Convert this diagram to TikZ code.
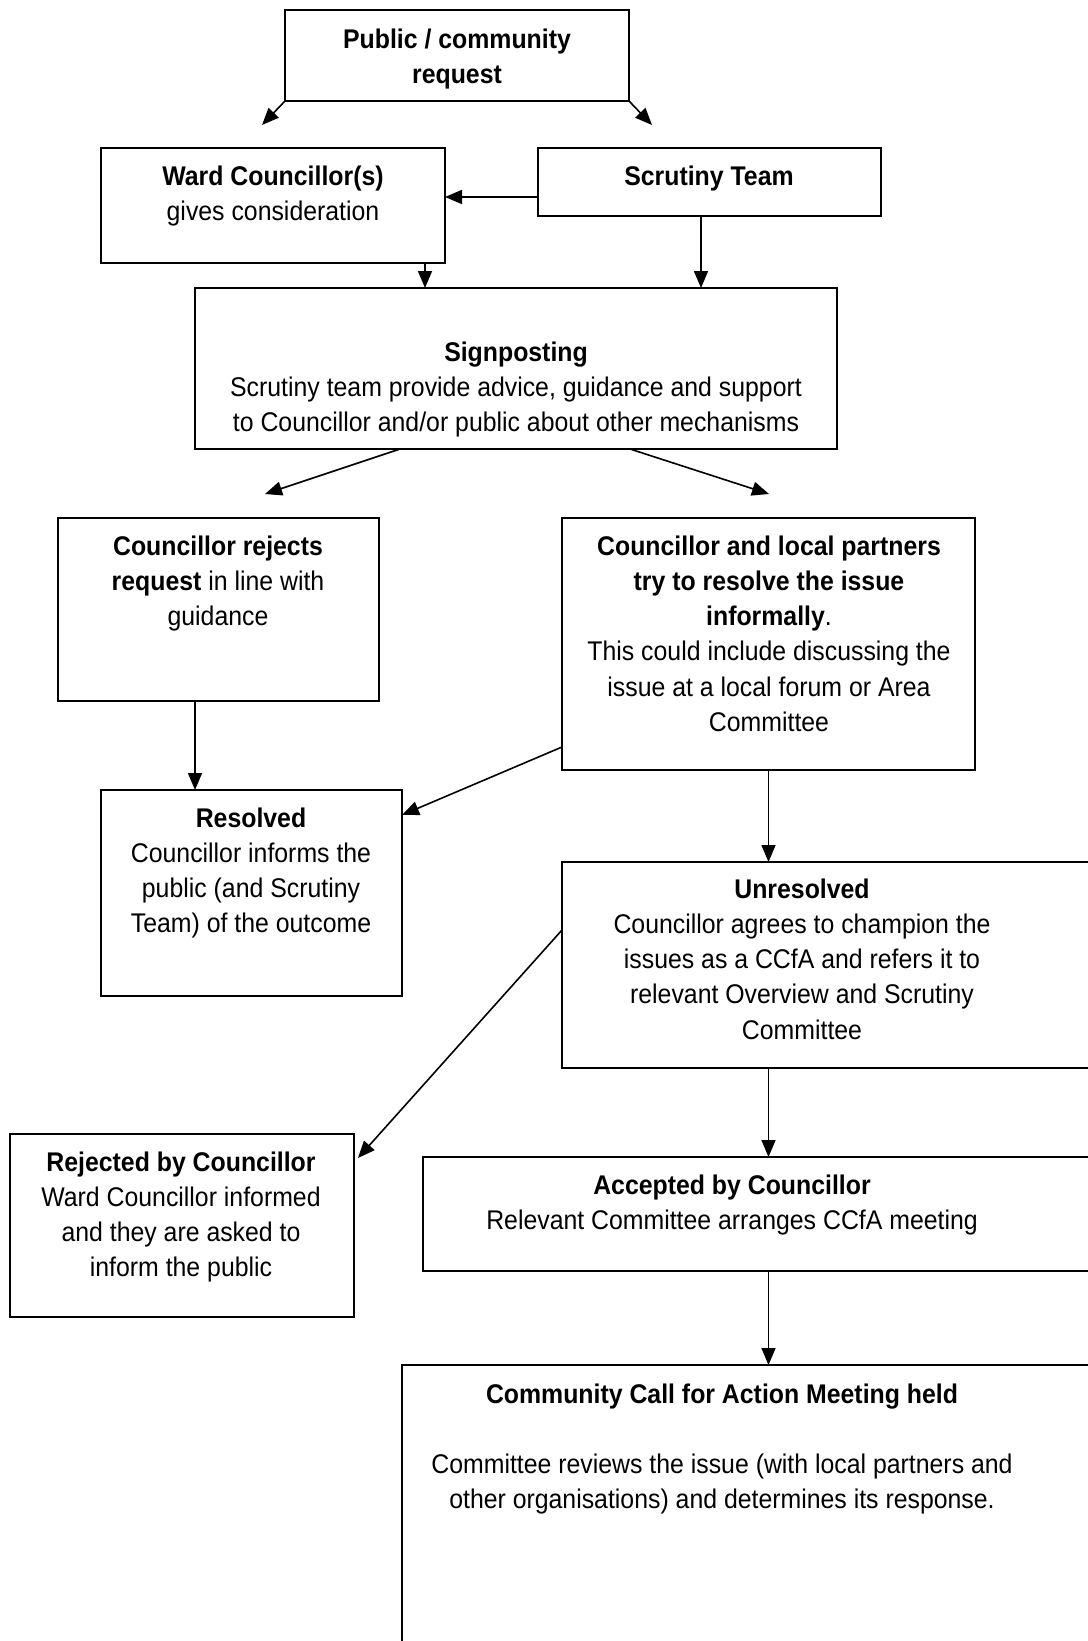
\documentclass[tikz,border=0pt]{standalone}
\usepackage{fontspec}
\setmainfont{Liberation Sans}[FakeStretch=0.92]
\usetikzlibrary{arrows.meta,calc}
\newcommand{\mlines}[1]{\begin{tabular}[t]{@{}c@{}}#1\end{tabular}}
\begin{document}
\begin{tikzpicture}[x=1pt,y=-1pt,
  box/.style={draw,line width=1.8pt,inner sep=0pt,outer sep=0pt,anchor=north west},
  txt/.style={inner sep=0pt,anchor=base,font=\fontsize{27}{35.3}\selectfont},
  arr/.style={line width=1.6pt,-{Triangle[length=17pt,width=14pt]}}]
\useasboundingbox (0,0) rectangle (1087,1641);
% boxes
\node[box,minimum width=344pt,minimum height=91pt] (pub) at (285,10) {};
\node[box,minimum width=344pt,minimum height=115pt] (ward) at (101,148) {};
\node[box,minimum width=343pt,minimum height=68pt] (scr) at (538,148) {};
\node[box,minimum width=642pt,minimum height=161pt] (sign) at (195,288) {};
\node[box,minimum width=321pt,minimum height=183pt] (rej) at (58,518) {};
\node[box,minimum width=413pt,minimum height=252pt] (part) at (562,518) {};
\node[box,minimum width=301pt,minimum height=206pt] (res) at (101,790) {};
\node[box,minimum width=540pt,minimum height=206pt] (unres) at (562,862) {};
\node[box,minimum width=344pt,minimum height=183pt] (rejd) at (10,1134) {};
\node[box,minimum width=680pt,minimum height=114pt] (acc) at (423,1157) {};
\node[box,minimum width=700pt,minimum height=300pt] (comm) at (402,1365) {};
% texts
\node[txt] (tpub) at (457,48) {\mlines{\textbf{Public / community}\\\textbf{request}}};
\node[txt] (tward) at (273,185) {\mlines{\textbf{Ward Councillor(s)}\\gives consideration}};
\node[txt] (tscr) at (709,185) {\mlines{\textbf{Scrutiny Team}}};
\node[txt] (tsign) at (516,361) {\mlines{\textbf{Signposting}\\Scrutiny team provide advice, guidance and support\\to Councillor and/or public about other mechanisms}};
\node[txt] (trej) at (218,555) {\mlines{\textbf{Councillor rejects}\\\textbf{request} in line with\\guidance}};
\node[txt] (tpart) at (769,555) {\mlines{\textbf{Councillor and local partners}\\\textbf{try to resolve the issue}\\\textbf{informally}.\\This could include discussing the\\issue at a local forum or Area\\Committee}};
\node[txt] (tres) at (251,827) {\mlines{\textbf{Resolved}\\Councillor informs the\\public (and Scrutiny\\Team) of the outcome}};
\node[txt] (tunres) at (802,898) {\mlines{\textbf{Unresolved}\\Councillor agrees to champion the\\issues as a CCfA and refers it to\\relevant Overview and Scrutiny\\Committee}};
\node[txt] (trejd) at (181,1171) {\mlines{\textbf{Rejected by Councillor}\\Ward Councillor informed\\and they are asked to\\inform the public}};
\node[txt] (tacc) at (732,1194) {\mlines{\textbf{Accepted by Councillor}\\Relevant Committee arranges CCfA meeting}};
\node[txt] (tcomm) at (722,1403) {\mlines{\textbf{Community Call for Action Meeting held}\\\\Committee reviews the issue (with local partners and\\other organisations) and determines its response.}};
% free ends
\coordinate (e1) at (262,125);
\coordinate (e2) at (652,125);
\coordinate (e3) at (265,494);
\coordinate (e4) at (769,494);
% connectors
\draw[arr] (pub.south west) -- (e1);
\draw[arr] (pub.south east) -- (e2);
\draw[arr] ([yshift=19pt]scr.south west) -- ([yshift=19pt]scr.south west -| ward.east);
\draw[arr] ([xshift=-20pt]ward.south east) -- ([xshift=-20pt]ward.south east |- sign.north);
\draw[arr] ([xshift=-180pt]scr.south east) -- ([xshift=-180pt]scr.south east |- sign.north);
\draw[arr] ([xshift=205pt]sign.south west) -- (e3);
\draw[arr] ([xshift=435pt]sign.south west) -- (e4);
\draw[arr] ([xshift=137pt]rej.south west) -- ([xshift=137pt]rej.south west |- res.north);
\draw[arr] ([yshift=23pt]part.south west) -- ([yshift=-25pt]res.north east);
\draw[arr] (part.south) -- (part.south |- unres.north);
\draw[arr] ([yshift=-68pt]unres.north west) -- ([xshift=4pt,yshift=-24pt]rejd.north east);
\draw[arr] (part.south |- unres.south) -- (part.south |- acc.north);
\draw[arr] (part.south |- acc.south) -- (part.south |- comm.north);
\end{tikzpicture}
\end{document}
